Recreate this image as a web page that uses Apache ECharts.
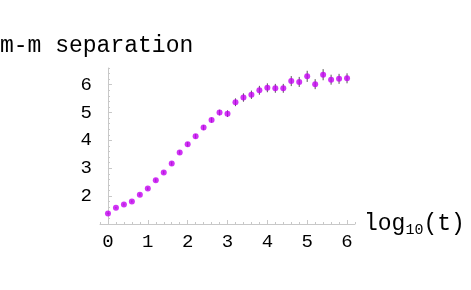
<!DOCTYPE html>
<html>
<head>
<meta charset="utf-8">
<script src="https://cdn.jsdelivr.net/npm/echarts@6/dist/echarts.min.js"></script>
<style>
  html, body { margin: 0; padding: 0; background: #fff; }
  #chart { width: 471px; height: 290px; }
</style>
</head>
<body>
<div id="chart"></div>
<script>
// log10(t) positions
const logT = [0, 0.2, 0.4, 0.6, 0.8, 1, 1.2, 1.4, 1.6, 1.8, 2, 2.2, 2.4, 2.6, 2.8, 3,
  3.2, 3.4, 3.6, 3.8, 4, 4.2, 4.4, 4.6, 4.8, 5, 5.2, 5.4, 5.6, 5.8, 6]
// m-m separation
const separation = [1.38, 1.58, 1.70, 1.81, 2.05, 2.27, 2.57, 2.85, 3.17, 3.57, 3.86, 4.15,
  4.46, 4.73, 5.00, 4.96, 5.37, 5.54, 5.64, 5.80, 5.89, 5.87, 5.87, 6.13, 6.10, 6.30,
  6.02, 6.36, 6.18, 6.21, 6.23]
// half length of the error bars
const errors = [0.03, 0.03, 0.04, 0.04, 0.05, 0.05, 0.06, 0.06, 0.07, 0.07, 0.08, 0.08,
  0.09, 0.09, 0.1, 0.12, 0.14, 0.15, 0.15, 0.16, 0.16, 0.16, 0.16, 0.18, 0.18, 0.2,
  0.18, 0.2, 0.18, 0.18, 0.18]
const xTicks = [0, 1, 2, 3, 4, 5, 6]
const yTicks = [2, 3, 4, 5, 6]

const points = logT.map((x, i) => [x, separation[i]])
const bars = logT.map((x, i) => [x, separation[i] - errors[i], separation[i] + errors[i]])

const axisGray = '#c8c8c8'
const font = '"Liberation Mono", "DejaVu Sans Mono", monospace'

const chart = echarts.init(document.getElementById('chart'))
chart.setOption({
  animation: false,
  grid: { left: 100, right: 116, top: 68, bottom: 66 },
  xAxis: [
    {
      type: 'value',
      min: -0.2,
      max: 6.2,
      splitLine: { show: false },
      axisLine: { lineStyle: { color: axisGray } },
      axisTick: { inside: true, length: 4, customValues: xTicks, lineStyle: { color: axisGray } },
      axisLabel: { customValues: xTicks, margin: 8, color: '#000', fontFamily: font, fontSize: 19 }
    },
    {
      type: 'value',
      min: -0.2,
      max: 6.2,
      interval: 0.2,
      position: 'bottom',
      splitLine: { show: false },
      axisLine: { show: false },
      axisTick: { inside: true, length: 2, lineStyle: { color: axisGray } },
      axisLabel: { show: false }
    }
  ],
  yAxis: [
    {
      type: 'value',
      min: 1,
      max: 6.6,
      splitLine: { show: false },
      axisLine: { show: true, lineStyle: { color: axisGray } },
      axisTick: { show: true, inside: true, length: 4, customValues: yTicks, lineStyle: { color: axisGray } },
      axisLabel: { customValues: yTicks, margin: 8, color: '#000', fontFamily: font, fontSize: 19 }
    },
    {
      type: 'value',
      min: 1,
      max: 6.6,
      interval: 0.2,
      position: 'left',
      splitLine: { show: false },
      axisLine: { show: false },
      axisTick: { show: true, inside: true, length: 2, lineStyle: { color: axisGray } },
      axisLabel: { show: false }
    }
  ],
  graphic: [
    {
      type: 'text', left: 0, top: 34,
      style: { text: 'm-m separation', font: '23px ' + font, fill: '#000' }
    },
    {
      type: 'text', left: 364, top: 212,
      style: {
        text: '{a|log}{b|10}{a|(t)}',
        fill: '#000',
        rich: {
          a: { fontFamily: font, fontSize: 23, verticalAlign: 'bottom' },
          b: { fontFamily: font, fontSize: 15, verticalAlign: 'bottom', padding: [0, 0, -3, 0] }
        }
      }
    }
  ],
  series: [
    {
      type: 'custom',
      renderItem(params, api) {
        const low = api.coord([api.value(0), api.value(1)])
        const high = api.coord([api.value(0), api.value(2)])
        return {
          type: 'line',
          shape: { x1: low[0], y1: low[1], x2: high[0], y2: high[1] },
          style: { stroke: '#555', lineWidth: 1 }
        }
      },
      encode: { x: 0, y: [1, 2] },
      data: bars,
      z: 1
    },
    {
      type: 'scatter',
      symbolSize: 6,
      itemStyle: { color: '#c400f2' },
      data: points,
      z: 2
    }
  ]
})
</script>
</body>
</html>
